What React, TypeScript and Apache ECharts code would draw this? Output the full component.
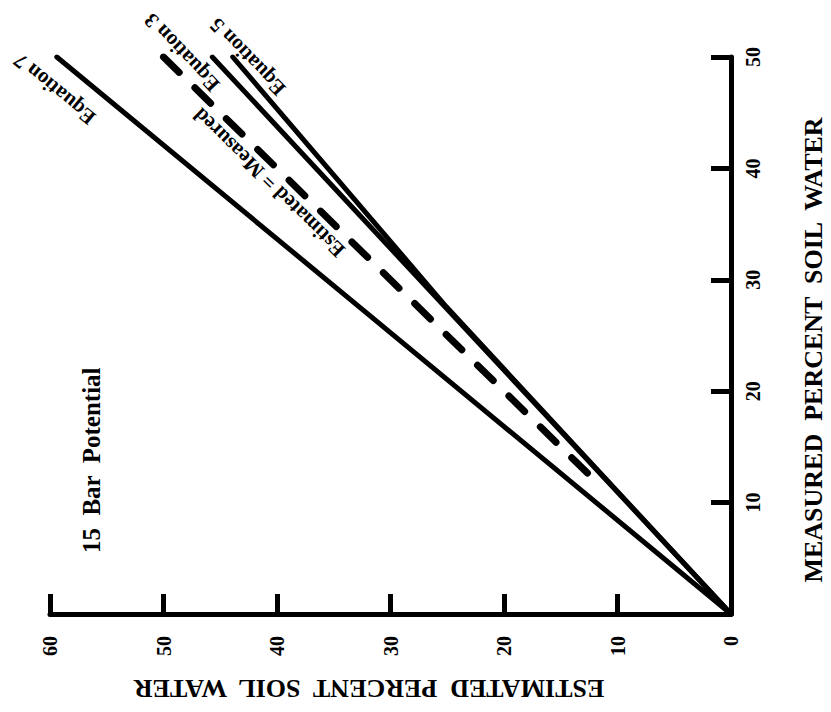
import React, { useEffect, useRef } from "react";
import * as echarts from "echarts";

// Axis ranges / ticks
const estimatedTicks = [0, 10, 20, 30, 40, 50, 60];
const measuredTicks = [0, 10, 20, 30, 40, 50];

// Lines: measured (x in original chart) vs estimated (y in original chart)
const measuredEq7 = [0, 50];
const estimatedEq7 = [0, 59.4];
const measuredEq3 = [0, 50];
const estimatedEq3 = [0, 45.7];
const measuredEq5 = [0, 27.6, 50];
const estimatedEq5 = [0, 25.1, 43.9];
const measuredOneToOne = [50, 12.5];
const estimatedOneToOne = [50, 12.5];

// Label anchors (estimated, measured) and angle in degrees
const lineLabels = [
  { text: "Equation 7", est: 59.6, meas: 47.1, angle: 140.5 },
  { text: "Equation 3", est: 48.4, meas: 50.4, angle: 133.5 },
  { text: "Equation 5", est: 42.6, meas: 50.0, angle: 134 },
  { text: "Estimated = Measured", est: 40.7, meas: 38.7, angle: 135.6 },
];
const noteLabel = { text: "15  Bar  Potential", est: 56.3, meas: 13.8 };

const xTitle = "ESTIMATED  PERCENT  SOIL  WATER";
const yTitle = "MEASURED  PERCENT  SOIL  WATER";

const pairs = (ms: number[], es: number[]) => ms.map((m, i) => [es[i], m]);

const FONT = "'Liberation Serif', 'Times New Roman', serif";

export default function App() {
  const ref = useRef<HTMLDivElement>(null);
  useEffect(() => {
    if (!ref.current) return;
    const chart = echarts.init(ref.current, null, { renderer: "svg" });
    const solid = (name: string, data: number[][]) => ({
      name,
      type: "line",
      data,
      symbol: "none",
      silent: true,
      lineStyle: { color: "#000", width: 5, cap: "round", join: "round" },
    });
    chart.setOption({
      animation: false,
      backgroundColor: "#fff",
      grid: { left: 50, right: 100, top: 57, bottom: 98 },
      xAxis: {
        type: "value",
        inverse: true,
        min: estimatedTicks[0],
        max: estimatedTicks[estimatedTicks.length - 1],
        interval: 10,
        axisLine: { onZero: false, lineStyle: { color: "#000", width: 5, cap: "round" } },
        axisTick: { inside: true, length: 20, lineStyle: { color: "#000", width: 5 } },
        axisLabel: {
          rotate: 90,
          margin: 22,
          color: "#000",
          fontSize: 20,
          fontWeight: "bold",
          fontFamily: FONT,
        },
        splitLine: { show: false },
      },
      yAxis: {
        type: "value",
        position: "right",
        min: measuredTicks[0],
        max: measuredTicks[measuredTicks.length - 1],
        interval: 10,
        axisLine: { onZero: false, lineStyle: { color: "#000", width: 5, cap: "round" } },
        axisTick: { inside: true, length: 20, lineStyle: { color: "#000", width: 5 } },
        axisLabel: {
          rotate: 90,
          margin: 12,
          showMinLabel: false,
          color: "#000",
          fontSize: 20,
          fontWeight: "bold",
          fontFamily: FONT,
        },
        splitLine: { show: false },
      },
      series: [
        solid("Equation 7", pairs(measuredEq7, estimatedEq7)),
        solid("Equation 3", pairs(measuredEq3, estimatedEq3)),
        solid("Equation 5", pairs(measuredEq5, estimatedEq5)),
        {
          name: "Estimated = Measured",
          type: "line",
          data: pairs(measuredOneToOne, estimatedOneToOne),
          symbol: "none",
          silent: true,
          lineStyle: { color: "#000", width: 7, type: [22, 22], cap: "round" },
        },
      ],
    });

    const px = (e: number, m: number) =>
      chart.convertToPixel({ gridIndex: 0 }, [e, m]) as number[];

    const graphics: any[] = [];
    lineLabels.forEach((l) => {
      const [x, y] = px(l.est, l.meas);
      graphics.push({
        type: "text",
        x,
        y,
        rotation: (l.angle * Math.PI) / 180,
        silent: true,
        style: {
          text: l.text,
          fill: "#000",
          fontSize: 21,
          fontWeight: "bold",
          fontFamily: FONT,
          align: "center",
          verticalAlign: "middle",
        },
      });
    });
    const [nx, ny] = px(noteLabel.est, noteLabel.meas);
    graphics.push({
      type: "text",
      x: nx,
      y: ny,
      rotation: Math.PI / 2,
      silent: true,
      style: {
        text: noteLabel.text,
        fill: "#000",
        fontSize: 25,
        fontWeight: "bold",
        fontFamily: FONT,
        align: "center",
        verticalAlign: "middle",
      },
    });
    graphics.push({
      type: "text",
      x: 813,
      y: 350,
      rotation: Math.PI / 2,
      silent: true,
      style: {
        text: yTitle,
        fill: "#000",
        fontSize: 26,
        fontWeight: "bold",
        fontFamily: FONT,
        align: "center",
        verticalAlign: "middle",
      },
    });
    graphics.push({
      type: "text",
      x: 369,
      y: 688,
      rotation: Math.PI,
      silent: true,
      style: {
        text: xTitle,
        fill: "#000",
        fontSize: 26,
        fontWeight: "bold",
        fontFamily: FONT,
        align: "center",
        verticalAlign: "middle",
      },
    });
    chart.setOption({ graphic: graphics });

    return () => chart.dispose();
  }, []);
  return (
    <div
      ref={ref}
      style={{ position: "fixed", left: 0, top: 0, width: 831, height: 712, background: "#fff" }}
    />
  );
}
